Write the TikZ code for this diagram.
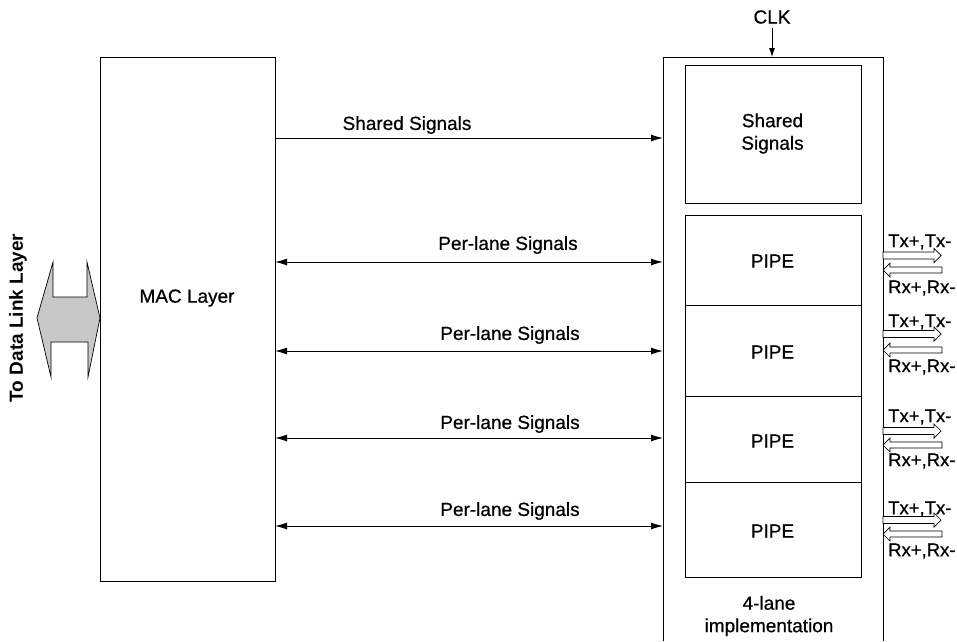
\documentclass[tikz,border=0pt]{standalone}
\usepackage{fontspec}
\setmainfont{Liberation Sans}
\newfontfamily\lblfont{Liberation Sans}[FakeBold=0.6]
\usetikzlibrary{arrows.meta}
\definecolor{arrgray}{RGB}{200,200,200}
\begin{document}
\begin{tikzpicture}[x=1pt,y=1pt,
  box/.style={draw, line width=0.9pt, inner sep=0pt, outer sep=0pt, anchor=north west},
  lbl/.style={font=\lblfont\fontsize{19}{22.5}\selectfont, inner sep=0pt, align=center},
  sig/.style={line width=1pt, -{Latex[length=12pt,width=7pt]}},
  bisig/.style={line width=1pt, {Latex[length=12pt,width=7pt]}-{Latex[length=12pt,width=7pt]}},
  hollow/.style={draw, line width=0.7pt, fill=white},
  txt/.style={font=\lblfont\fontsize{18.5}{20}\selectfont, inner sep=0pt, anchor=west}
]
\useasboundingbox (0,0) rectangle (957,-641);

% MAC layer
\node[box, minimum width=175, minimum height=524] (mac) at (100,-57) {};
\node[lbl] (maclbl) at (187,-298) {MAC Layer};

% outer PHY box (open at bottom, runs off the page)
\node[inner sep=0pt, outer sep=0pt, minimum width=220, minimum height=584, anchor=north west] (outer) at (663,-57) {};
\draw[line width=0.9pt] (outer.south west) -- (outer.north west) -- (outer.north east) -- (outer.south east);

% inner boxes
\node[box, minimum width=176, minimum height=138] (shared) at (685,-65) {};
\node[lbl] (sharedlbl) at (772.5,-133.5) {Shared\\Signals};
\node[box, minimum width=176, minimum height=90] (pipeA) at (685,-215) {};
\node[box, minimum width=176, minimum height=91] (pipeB) at (685,-305) {};
\node[box, minimum width=176, minimum height=86] (pipeC) at (685,-396) {};
\node[box, minimum width=176, minimum height=95] (pipeD) at (685,-482) {};
\node[lbl] (pipeAl) at (772.5,-261) {PIPE};
\node[lbl] (pipeBl) at (772.5,-352) {PIPE};
\node[lbl] (pipeCl) at (772.5,-441) {PIPE};
\node[lbl] (pipeDl) at (772.5,-531) {PIPE};
\node[lbl] (impl) at (769,-616) {4-lane\\implementation};

% CLK
\node[lbl] (clk) at (772,-17) {CLK};
\draw[line width=0.9pt, -{Latex[length=9pt,width=6pt]}, shorten <=4pt] (clk.south) -- (clk.south |- outer.north);

% shared signals
\draw[sig] (mac.east |- 0,-138) -- (outer.west |- 0,-138);
\node[lbl] (sharedsig) at (407,-125) {Shared Signals};

% per-lane signals
\draw[bisig] (mac.east |- 0,-262) -- (outer.west |- 0,-262);
\node[lbl] (laneA) at (508,-245) {Per-lane Signals};
\draw[bisig] (mac.east |- 0,-351) -- (outer.west |- 0,-351);
\node[lbl] (laneB) at (510,-335) {Per-lane Signals};
\draw[bisig] (mac.east |- 0,-438) -- (outer.west |- 0,-438);
\node[lbl] (laneC) at (510,-424) {Per-lane Signals};
\draw[bisig] (mac.east |- 0,-526) -- (outer.west |- 0,-526);
\node[lbl] (laneD) at (510,-511) {Per-lane Signals};

% Tx / Rx hollow arrows
\foreach \tx/\rx/\tt/\rt [count=\i] in {255.5/270/242/288, 334/350/322/367, 431/445/417/461, 520/534/509/551}{
  \draw[hollow] (883,-\tx+3.5) -- (934,-\tx+3.5) -- (934,-\tx+7) -- (941,-\tx) -- (934,-\tx-7) -- (934,-\tx-3.5) -- (883,-\tx-3.5) -- cycle;
  \draw[hollow] (883,-\rx) -- (890,-\rx+7) -- (890,-\rx+3) -- (942,-\rx+3) -- (942,-\rx-3) -- (890,-\rx-3) -- (890,-\rx-7) -- cycle;
  \node[txt] (tx\i) at (888,-\tt) {Tx+,Tx-};
  \node[txt] (rx\i) at (888,-\rt) {Rx+,Rx-};
}

% gray double arrow to data link layer
\draw[line width=0.7pt, fill=arrgray] (37,-318) -- (53,-262) -- (53,-297) -- (87,-297) -- (87,-262) -- (100,-318) -- (88,-377) -- (88,-342) -- (51,-342) -- (51,-377) -- cycle;
\node[font=\bfseries\fontsize{19}{20}\selectfont, rotate=90, inner sep=0pt] (dll) at (18,-318) {To Data Link Layer};
\end{tikzpicture}
\end{document}
